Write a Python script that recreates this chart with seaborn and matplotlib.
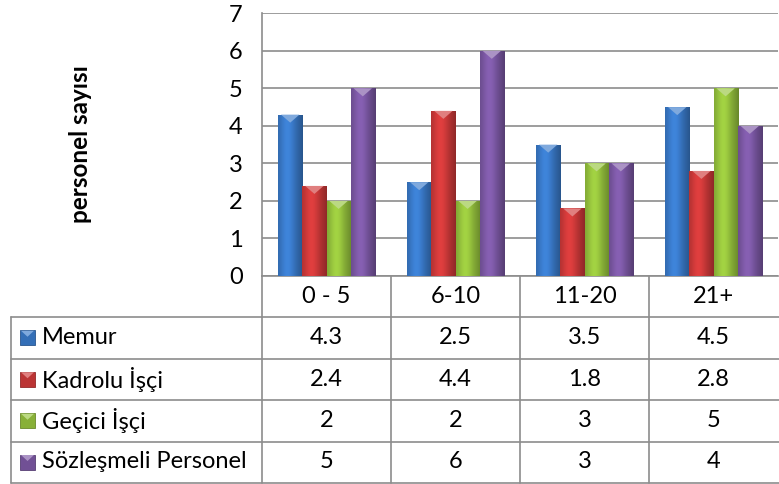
import numpy as np
import pandas as pd
import seaborn as sns
import matplotlib
matplotlib.use("Agg")
import matplotlib.pyplot as plt
from matplotlib.colors import to_rgb
from matplotlib.patches import Rectangle, Polygon

# ---- data -------------------------------------------------------------
categories = ["0 - 5", "6-10", "11-20", "21+"]
series = ["Memur", "Kadrolu İşçi", "Geçici İşçi", "Sözleşmeli Personel"]
memur = [4.3, 2.5, 3.5, 4.5]
kadrolu_isci = [2.4, 4.4, 1.8, 2.8]
gecici_isci = [2, 2, 3, 5]
sozlesmeli_personel = [5, 6, 3, 4]
y_ticks = [0, 1, 2, 3, 4, 5, 6, 7]
y_label = "personel sayısı"
colors = ["#3A7BCB", "#D03A3A", "#97C43E", "#7D59A6"]

values = [memur, kadrolu_isci, gecici_isci, sozlesmeli_personel]
df = pd.DataFrame(
    [(c, s, v) for s, vals in zip(series, values) for c, v in zip(categories, vals)],
    columns=["grup", "seri", "deger"],
)

# ---- figure / axes ----------------------------------------------------
sns.set_theme(style="white")
plt.rcParams["font.family"] = ["Lato", "DejaVu Sans"]
FS = 17
GRID = "#8C8C8C"

W, H = 779, 484
fig = plt.figure(figsize=(W / 100, H / 100), dpi=100)
fig.patch.set_facecolor("white")
ax_left, ax_right, ax_top, ax_bottom = 262, 778, 13.3, 276
ax = fig.add_axes([ax_left / W, 1 - ax_bottom / H,
                   (ax_right - ax_left) / W, (ax_bottom - ax_top) / H])

sns.barplot(data=df, x="grup", y="deger", hue="seri", palette=colors,
            width=0.75, saturation=1, linewidth=0, legend=False, ax=ax,
            zorder=3)

ax.set_xlim(-0.5, len(categories) - 0.5)
ax.set_ylim(y_ticks[0], y_ticks[-1])
ax.set_yticks(y_ticks)
ax.set_yticklabels([str(t) for t in y_ticks], fontsize=FS, color="black")
ax.set_xticks([])
ax.set_xlabel("")
ax.set_ylabel("")
ax.tick_params(axis="y", length=0, pad=14)
ax.yaxis.grid(True, color=GRID, linewidth=1.2)
ax.set_axisbelow(True)
for side in ["top", "right"]:
    ax.spines[side].set_visible(False)
for side in ["left", "bottom"]:
    ax.spines[side].set_color(GRID)
    ax.spines[side].set_linewidth(1.2)

fig.text(80 / W, 1 - 144 / H, y_label, rotation=90, ha="center", va="center",
         fontsize=17.5, fontweight="bold", color="black")


# ---- bevelled shading on each bar ------------------------------------
def shade_profile(n=64):
    t = np.linspace(0, 1, n)
    return 0.80 + 0.28 * np.exp(-((t - 0.38) / 0.32) ** 2) - 0.12 * t ** 6


bar_patches = [p for p in ax.patches if isinstance(p, Rectangle) and p.get_height() > 0]
prof = shade_profile()
px_per_unit = (ax_bottom - ax_top) / (y_ticks[-1] - y_ticks[0])
for p in bar_patches:
    base = np.array(to_rgb(p.get_facecolor()))
    x0, w, h = p.get_x(), p.get_width(), p.get_height()
    grad = np.clip(prof[None, :, None] * base[None, None, :], 0, 1)
    im = ax.imshow(grad, extent=[x0, x0 + w, 0, h], aspect="auto",
                   interpolation="bicubic", zorder=3.5)
    im.set_clip_path(p)
    d = 8 / px_per_unit
    light = base + (1 - base) * 0.35
    tri = Polygon([(x0 + 0.12 * w, h), (x0 + 0.88 * w, h), (x0 + 0.5 * w, h - d)],
                  closed=True, facecolor=light, edgecolor="none", zorder=3.6)
    ax.add_patch(tri)

ax.set_xlim(-0.5, len(categories) - 0.5)
ax.set_ylim(y_ticks[0], y_ticks[-1])

# ---- data table below the plot ----------------------------------------
tab = fig.add_axes([0, 0, 1, 1], zorder=-1)
tab.set_xlim(0, W)
tab.set_ylim(H, 0)
tab.axis("off")

fig.canvas.draw()
col_edges = [ax.transData.transform((i - 0.5, 0))[0] for i in range(len(categories) + 1)]
table_left = 11
header_top = ax_bottom
row_edges = [317, 358.5, 400, 441.5, 482.5]

for x in col_edges[:-1]:
    tab.plot([x, x], [header_top, row_edges[-1]], color=GRID, lw=1.2)
tab.plot([table_left, table_left], [row_edges[0], row_edges[-1]], color=GRID, lw=1.2)
for y in row_edges:
    tab.plot([table_left, W], [y, y], color=GRID, lw=1.2)

centers = [(col_edges[i] + col_edges[i + 1]) / 2 for i in range(len(categories))]
for cx, cat in zip(centers, categories):
    tab.text(cx, (header_top + row_edges[0]) / 2, cat, ha="center", va="center",
             fontsize=FS, color="black")

for r, (name, vals, col) in enumerate(zip(series, values, colors)):
    cy = (row_edges[r] + row_edges[r + 1]) / 2
    base = np.array(to_rgb(col))
    tab.add_patch(Rectangle((20, cy - 7.5), 15, 15, facecolor=base * 0.9,
                            edgecolor=base * 0.7, lw=0.6))
    tab.add_patch(Polygon([(21, cy - 7), (34, cy - 7), (27.5, cy - 1)],
                          facecolor=base + (1 - base) * 0.35, edgecolor="none"))
    tab.text(42, cy, name, ha="left", va="center", fontsize=FS, color="black")
    for cx, v in zip(centers, vals):
        tab.text(cx, cy, f"{v:g}", ha="center", va="center", fontsize=FS, color="black")

fig.savefig("out.png", dpi=100, facecolor="white")
